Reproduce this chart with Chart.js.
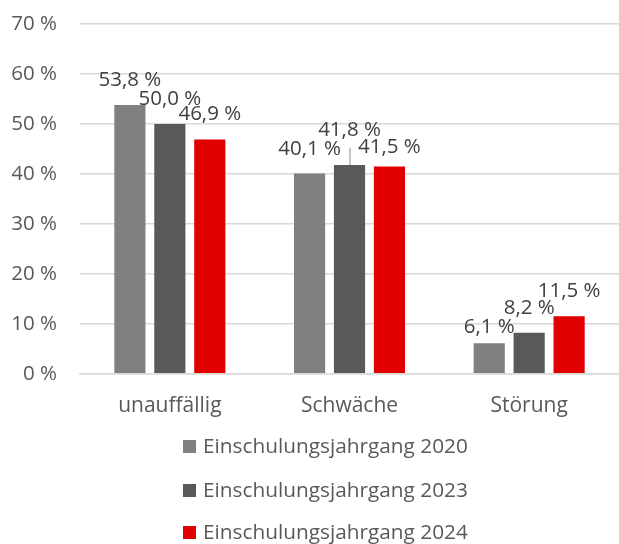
<!DOCTYPE html>
<html>
<head>
<meta charset="utf-8">
<script src="https://cdn.jsdelivr.net/npm/chart.js@4"></script>
<style>
  html, body { margin: 0; padding: 0; background: #fff; }
  #wrap { width: 619px; height: 544px; }
</style>
</head>
<body>
<div id="wrap"><canvas id="grafica"></canvas></div>
<script>
// daten
const categories = ["unauffällig", "Schwäche", "Störung"];
const seriesNames = ["Einschulungsjahrgang 2020", "Einschulungsjahrgang 2023", "Einschulungsjahrgang 2024"];
const values2020 = [53.8, 40.1, 6.1];
const values2023 = [50.0, 41.8, 8.2];
const values2024 = [46.9, 41.5, 11.5];
const yTicks = [0, 10, 20, 30, 40, 50, 60, 70];

const colors = ["#808080", "#595959", "#e00000"];
// wie weit die Beschriftung über dem Balken sitzt (px), wie in Excel verschoben
const labelLift = [[25, 24, 16], [25, 35, 25], [25, 19, 25]];

const fmt = v => v.toFixed(1).replace(".", ",") + " %";

// Beschriftungen über den Balken
const barLabels = {
    id: "barLabels",
    afterDatasetsDraw(chart) {
        const ctx = chart.ctx;
        ctx.save();
        ctx.font = "20.5px 'Open Sans'";
        ctx.fillStyle = "#404040";
        ctx.textAlign = "center";
        ctx.textBaseline = "middle";
        chart.data.datasets.forEach((ds, d) => {
            const meta = chart.getDatasetMeta(d);
            meta.data.forEach((bar, i) => {
                const lift = labelLift[d][i];
                if (lift > 30) {
                    ctx.strokeStyle = "#8c8c8c";
                    ctx.lineWidth = 1;
                    ctx.beginPath();
                    ctx.moveTo(bar.x + 0.5, bar.y);
                    ctx.lineTo(bar.x + 0.5, bar.y - lift + 18);
                    ctx.stroke();
                }
                ctx.fillText(fmt(ds.data[i]), bar.x, bar.y - lift);
            });
        });
        ctx.restore();
    }
};

// Legende untereinander
const stackedLegend = {
    id: "stackedLegend",
    afterDraw(chart) {
        const ctx = chart.ctx;
        ctx.save();
        ctx.font = "20.8px 'Open Sans'";
        ctx.textBaseline = "middle";
        ctx.textAlign = "left";
        const rows = [447, 491, 533];
        chart.data.datasets.forEach((ds, d) => {
            ctx.fillStyle = ds.backgroundColor;
            ctx.fillRect(183, rows[d] - 7, 13, 13);
            ctx.fillStyle = "#595959";
            ctx.fillText(ds.label, 203, rows[d]);
        });
        ctx.restore();
    }
};

const datasets = [values2020, values2023, values2024].map((vals, d) => ({
    label: seriesNames[d],
    data: vals,
    backgroundColor: colors[d],
    categoryPercentage: 0.667,
    barPercentage: 0.78
}));

new Chart(document.getElementById("grafica"), {
    type: "bar",
    data: { labels: categories, datasets: datasets },
    options: {
        responsive: true,
        maintainAspectRatio: false,
        animation: false,
        layout: { padding: { top: 24, left: 12, right: 0, bottom: 113 } },
        plugins: {
            legend: { display: false },
            tooltip: { enabled: false }
        },
        scales: {
            x: {
                grid: { display: false },
                border: { color: "#d9d9d9", width: 1.5 },
                ticks: { color: "#595959", font: { family: "Open Sans", size: 21 }, padding: 12 }
            },
            y: {
                min: 0,
                max: 70,
                afterFit: s => { s.width = 68; },
                afterBuildTicks: s => { s.ticks = yTicks.map(v => ({ value: v })); },
                grid: { color: "#d9d9d9", lineWidth: 1.5, drawTicks: true, tickLength: 21, tickColor: "rgba(0,0,0,0)" },
                border: { display: false },
                ticks: {
                    color: "#595959",
                    font: { family: "Open Sans", size: 20.5 },
                    padding: 2,
                    callback: v => v + " %"
                }
            }
        }
    },
    plugins: [barLabels, stackedLegend]
});
</script>
</body>
</html>
